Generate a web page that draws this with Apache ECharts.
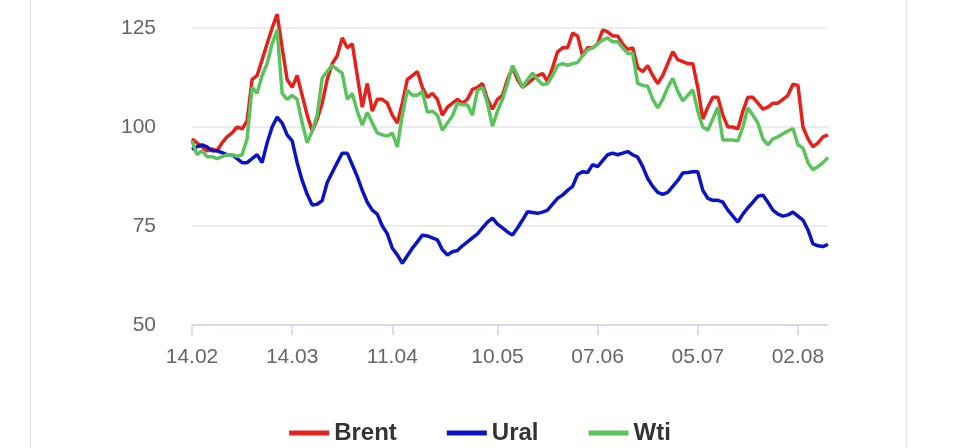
<!DOCTYPE html>
<html>
<head>
<meta charset="utf-8">
<script src="https://cdn.jsdelivr.net/npm/echarts@6/dist/echarts.min.js"></script>
<style>html,body{margin:0;padding:0;background:#fff}#chart{width:960px;height:448px}</style>
</head>
<body>
<div id="chart"></div>
<script>
// торговые дни с 14.02 (будни)
const days = [];
const start = new Date(2022, 1, 14);
for (let d = new Date(start); days.length < 128; d.setDate(d.getDate() + 1)) {
    const wd = d.getDay();
    if (wd === 0 || wd === 6) continue;
    days.push(String(d.getDate()).padStart(2, '0') + '.' + String(d.getMonth() + 1).padStart(2, '0'));
}
const tickLabels = ['14.02', '14.03', '11.04', '10.05', '07.06', '05.07', '02.08'];
const yTicks = [50, 75, 100, 125];

const brent = [97,96,95,94,94.5,94,96,97.5,98.5,100,99.5,101.5,112,113,117,121,125,128.5,120,112,110,113,108,103,99,102,106,112,116,118,122.5,120,121,113,105,111,104,107,107,106,103,101,106,112,113,114,110,107.5,108.5,107,103,105,106,107,106,107,109.5,110,111,107,104.5,107,108,112,115,112,110,111,112,113,113.5,111.5,115,119,120,120,123.7,123,118,120,120,121,124.5,124,123,123,121,119.6,120,115,114,115.5,113,111,113,116,119,117,116.5,116,116,110,102,105,107.5,107.5,103,100,100,99.5,104,107.5,107.5,106,104.5,105,106,106,107,108,110.8,110.5,100,97,95,96,97.5,98];
const ural = [94.3,95,95.5,95,94,94,93.5,93,93,92,91,91,92,93,91,96,100,102.5,101,98,96.5,91,86.5,83,80.3,80.5,81.4,86,88.5,91,93.4,93.4,90.5,87.5,84,81,79,78,75,73,69.4,67.7,65.6,67.5,69.4,71,72.7,72.5,72,71.5,69,67.7,68.5,68.8,70,71,72,73,74.5,76,77,75.5,74.5,73.5,72.7,74.5,76.5,78.6,78.4,78.2,78.5,79,80.5,82,82.8,84,85,88,88.7,88.5,90.5,90,91.5,93,93.4,93,93.4,93.8,93,92.4,90,87,85,83.5,83,83.5,85,86.5,88.4,88.5,88.7,88.7,84,82,81.5,81.5,81,79,77.5,76,78,79.6,81,82.5,82.8,81,79,78,77.5,77.8,78.5,77.5,76.5,74,70.5,70,69.8,70.4];
const wti = [96.5,93,94,92.5,92.5,92,92.5,93,93,92.6,93,97,110,108.5,113,116,121,124.5,108.5,107,108,107,101,96,99,103,112.4,114,115.6,114.5,113.6,107,108.5,104,100.5,103.7,101,98.5,98,97.7,98.5,95,103,109.3,108,108,109,103.7,104,103,99.2,101,102.8,106,105.6,105.6,103,109.3,110,106,100.2,104,107,111,115.5,113,110,112,113.6,112,110.7,111,113,115.5,116,115.6,116,116.3,118,119.5,120,121,122,122.5,121.5,121.5,120,118.6,118.6,111,110.5,110.3,107,104.8,107,110,112.3,109,106.6,108,109.4,104,100,99.2,102,105,96.7,96.7,96.7,96.5,100,104.8,103,101,97,95.5,97,97.5,98.3,99,99.6,95.5,94.7,91,89.2,90,91,92.3];

const chart = echarts.init(document.getElementById('chart'));
const showTick = (i, v) => tickLabels.indexOf(v) >= 0;
const line = (name, data, color) => ({
    name: name,
    type: 'line',
    data: data,
    showSymbol: false,
    clip: false,
    lineStyle: {width: 3.5, color: color},
    itemStyle: {color: color}
});

chart.setOption({
    animation: false,
    graphic: [
        {type: 'rect', shape: {x: 30, y: 0, width: 1, height: 448}, style: {fill: '#e4e4e4'}},
        {type: 'rect', shape: {x: 906, y: 0, width: 1, height: 448}, style: {fill: '#e4e4e4'}}
    ],
    grid: {left: 192, right: 132, top: 28, bottom: 123},
    legend: {
        bottom: -2,
        left: 'center',
        itemWidth: 40,
        itemGap: 50,
        icon: 'rect',
        itemHeight: 5,
        textStyle: {fontSize: 24, fontWeight: 'bold', color: '#333', fontFamily: 'Liberation Sans'},
        data: ['Brent', 'Ural', 'Wti']
    },
    xAxis: {
        type: 'category',
        boundaryGap: false,
        data: days,
        axisLine: {lineStyle: {color: '#ccd6eb', width: 1.5}},
        axisTick: {interval: showTick, length: 10, lineStyle: {color: '#ccd6eb', width: 1.5}},
        axisLabel: {interval: showTick, color: '#666', fontSize: 21, margin: 22, fontFamily: 'Liberation Sans'}
    },
    yAxis: {
        type: 'value',
        min: yTicks[0],
        max: yTicks[yTicks.length - 1],
        interval: 25,
        axisLine: {show: false},
        axisTick: {show: false},
        axisLabel: {color: '#666', fontSize: 21, margin: 36, fontFamily: 'Liberation Sans'},
        splitLine: {lineStyle: {color: '#e6e6e6', width: 1.5}}
    },
    series: [
        line('Brent', brent, '#e4221b'),
        line('Ural', ural, '#0a14c4'),
        line('Wti', wti, '#5cc35c')
    ]
});
</script>
</body>
</html>
